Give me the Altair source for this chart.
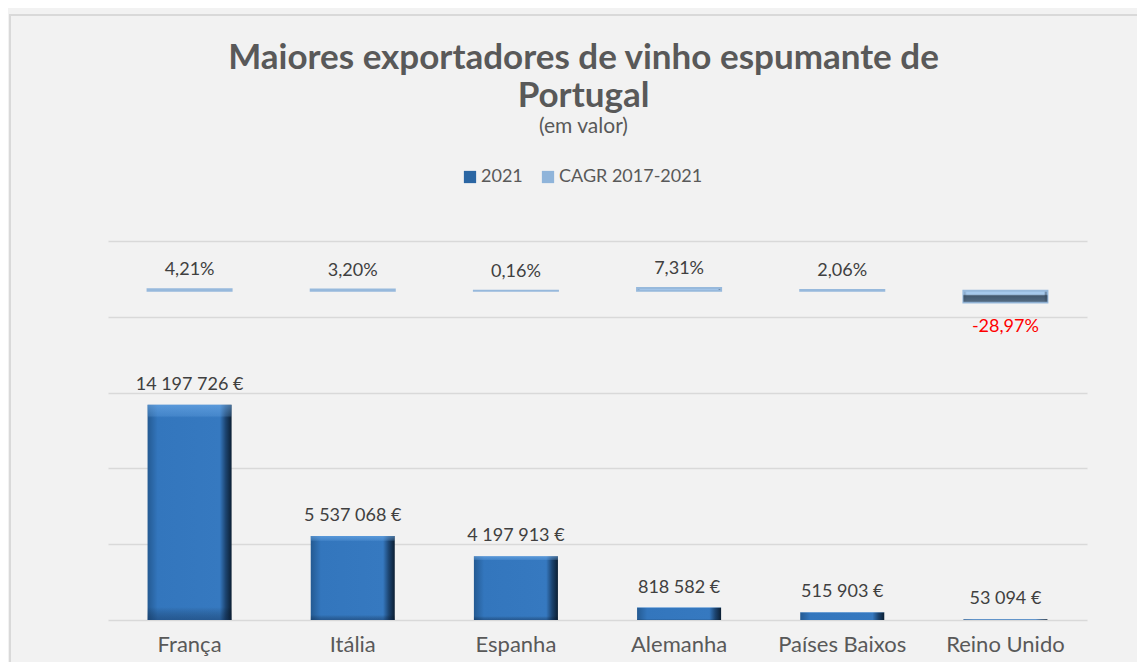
import altair as alt
import pandas as pd

# ---- data ----
paises = ["França", "Itália", "Espanha", "Alemanha", "Países Baixos", "Reino Unido"]
valores_2021 = [14197726, 5537068, 4197913, 818582, 515903, 53094]
cagr_2017_2021 = [0.0421, 0.0320, 0.0016, 0.0731, 0.0206, -0.2897]
series = ["2021", "CAGR 2017-2021"]
grid_values = [0, 5e6, 10e6, 15e6, 20e6, 25e6]

FONT = "Lato"
GREY = "#595959"


def fmt_eur(v):
    return f"{v:,}".replace(",", " ") + " €"


def fmt_pct(v):
    return f"{v * 100:.2f}%".replace(".", ",")


df_v = pd.DataFrame({
    "pais": paises,
    "valor": valores_2021,
    "serie": series[0],
    "rotulo": [fmt_eur(v) for v in valores_2021],
})
df_c = pd.DataFrame({
    "pais": paises,
    "cagr": cagr_2017_2021,
    "serie": series[1],
    "rotulo": [fmt_pct(v) for v in cagr_2017_2021],
})

x_enc = alt.X(
    "pais:N",
    sort=paises,
    scale=alt.Scale(paddingInner=0.485, paddingOuter=0.2425),
    axis=alt.Axis(title=None, labelAngle=0, labelFontSize=22, labelColor=GREY,
                  labelFont=FONT, domain=False, ticks=False, labelPadding=14),
)
y_scale_v = alt.Scale(domain=[0, 25e6], nice=False, zero=True)
y_scale_c = alt.Scale(domain=[-8.25, 1.25], nice=False, zero=False)

color_enc = alt.Color(
    "serie:N",
    scale=alt.Scale(domain=series, range=["#2b66a3", "#8fb4da"]),
    legend=alt.Legend(title=None, orient="none", direction="horizontal",
                      legendX=353, legendY=-73, symbolType="square",
                      symbolSize=150, symbolStrokeWidth=0, labelFontSize=18,
                      labelFont=FONT, labelColor=GREY, labelOffset=2,
                      columnPadding=16),
)

grad_main = alt.Gradient(
    gradient="linear", x1=0, y1=0, x2=1, y2=0,
    stops=[
        alt.GradientStop(color="#245a92", offset=0),
        alt.GradientStop(color="#3376bd", offset=0.12),
        alt.GradientStop(color="#3679c0", offset=0.86),
        alt.GradientStop(color="#1c4470", offset=0.93),
        alt.GradientStop(color="#0c1f33", offset=1),
    ],
)
grad_vert = alt.Gradient(
    gradient="linear", x1=0, y1=0, x2=0, y2=1,
    stops=[
        alt.GradientStop(color="rgba(120,180,240,0.55)", offset=0),
        alt.GradientStop(color="rgba(120,180,240,0.25)", offset=0.05),
        alt.GradientStop(color="rgba(120,180,240,0)", offset=0.06),
        alt.GradientStop(color="rgba(0,0,0,0)", offset=0.94),
        alt.GradientStop(color="rgba(10,30,60,0.35)", offset=1),
    ],
)
grad_light = alt.Gradient(
    gradient="linear", x1=0, y1=0, x2=1, y2=0,
    stops=[
        alt.GradientStop(color="#7592b0", offset=0),
        alt.GradientStop(color="#a6c9ec", offset=0.04),
        alt.GradientStop(color="#a6c9ec", offset=0.96),
        alt.GradientStop(color="#2e3e50", offset=1),
    ],
)
grad_neg = alt.Gradient(
    gradient="linear", x1=0, y1=0, x2=0, y2=1,
    stops=[
        alt.GradientStop(color="rgba(0,0,0,0)", offset=0),
        alt.GradientStop(color="rgba(0,0,0,0)", offset=0.3),
        alt.GradientStop(color="rgba(50,70,90,0.85)", offset=0.45),
        alt.GradientStop(color="rgba(60,80,100,0.8)", offset=0.9),
        alt.GradientStop(color="rgba(120,150,180,0.5)", offset=1),
    ],
)

bars = alt.Chart(df_v).mark_bar(fill=grad_main).encode(
    x=x_enc,
    y=alt.Y("valor:Q", scale=y_scale_v,
            axis=alt.Axis(values=grid_values, labels=False, ticks=False,
                          domain=False, grid=True, gridColor="#d9d9d9",
                          gridWidth=1.6, title=None)),
    color=color_enc,
)
bars_shade = alt.Chart(df_v).mark_bar(fill=grad_vert).encode(
    x=x_enc,
    y=alt.Y("valor:Q", scale=y_scale_v, axis=None),
)
bar_labels = alt.Chart(df_v).mark_text(
    dy=-15, baseline="alphabetic", fontSize=18, font=FONT, color="#404040"
).encode(
    x=x_enc,
    y=alt.Y("valor:Q", scale=y_scale_v, axis=None),
    text="rotulo:N",
)

cagr_bars = alt.Chart(df_c).mark_bar(
    fill=grad_light, stroke="#97b9dc", strokeWidth=2
).encode(
    x=x_enc,
    y=alt.Y("cagr:Q", scale=y_scale_c, axis=None),
    color=color_enc,
)
cagr_neg_shade = alt.Chart(df_c).transform_filter("datum.cagr < 0").mark_bar(
    fill=grad_neg
).encode(
    x=x_enc,
    y=alt.Y("cagr:Q", scale=y_scale_c, axis=None),
)
cagr_pos_labels = alt.Chart(df_c).transform_filter("datum.cagr >= 0").mark_text(
    dy=-14, baseline="alphabetic", fontSize=18, font=FONT, color="#404040"
).encode(
    x=x_enc,
    y=alt.Y("cagr:Q", scale=y_scale_c, axis=None),
    text="rotulo:N",
)
cagr_neg_labels = alt.Chart(df_c).transform_filter("datum.cagr < 0").mark_text(
    dy=16, baseline="top", fontSize=18, font=FONT, color="#ff0000"
).encode(
    x=x_enc,
    y=alt.Y("cagr:Q", scale=y_scale_c, axis=None),
    text="rotulo:N",
)

frame_df = pd.DataFrame({"k": [0]})
frame_left = alt.Chart(frame_df).mark_rule(color="#d9d9d9", strokeWidth=2).encode(
    x=alt.value(-98), y=alt.value(-227), y2=alt.value(430)
)
frame_top = alt.Chart(frame_df).mark_rule(color="#d9d9d9", strokeWidth=2).encode(
    x=alt.value(-99), x2=alt.value(1060), y=alt.value(-226)
)

chart = alt.layer(
    frame_left, frame_top,
    bars, bars_shade, bar_labels,
    cagr_bars, cagr_neg_shade, cagr_pos_labels, cagr_neg_labels,
).resolve_scale(
    y="independent"
).properties(
    width=979,
    height=379,
    title=alt.TitleParams(
        text=["Maiores exportadores de vinho espumante de", "Portugal"],
        subtitle=["(em valor)"],
        fontSize=35, font=FONT, fontWeight="bold", color=GREY, lineHeight=38,
        subtitleFontSize=21, subtitleFont=FONT, subtitleColor=GREY,
        subtitlePadding=2,
        anchor="middle", frame="group", dx=-14, offset=-124,
    ),
    padding={"left": 100, "top": 233, "right": 50, "bottom": 42},
    autosize=alt.AutoSizeParams(type="none"),
    background="#f2f2f2",
).configure_view(
    stroke=None
)

chart.save("out.html", embed_options={"renderer": "svg", "actions": False})
